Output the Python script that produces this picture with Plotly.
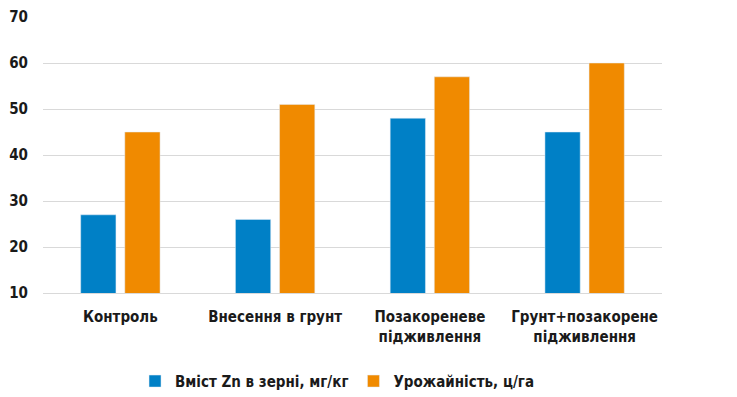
import plotly.graph_objects as go

categories = ["Контроль", "Внесення в грунт", "Позакореневе<br>підживлення", "Грунт+позакорене<br>підживлення"]
zn_content = [27, 26, 48, 45]
yield_vals = [45, 51, 57, 60]
series_names = ["Вміст Zn в зерні, мг/кг", "Урожайність, ц/га"]
y_ticks = [10, 20, 30, 40, 50, 60, 70]

FONT = "DejaVu Sans Condensed, Liberation Sans Narrow, sans-serif"
TXT = dict(family=FONT, size=15, color="#1a1a1a", weight="bold")

fig = go.Figure()
fig.add_trace(go.Bar(x=categories, y=zn_content, name=series_names[0], marker_color="#0080C6"))
fig.add_trace(go.Bar(x=categories, y=yield_vals, name=series_names[1], marker_color="#F08A00"))

fig.update_layout(
    width=737, height=397,
    margin=dict(l=35, r=83, t=9, b=112, autoexpand=False),
    paper_bgcolor="white", plot_bgcolor="white",
    barmode="group", bargap=0.43, bargroupgap=0.2,
    font=TXT,
    showlegend=True,
    legend=dict(orientation="h", x=0.475, xanchor="center", y=-0.32, yanchor="middle",
                font=TXT, traceorder="normal"),
    yaxis=dict(range=[10, 70], tickvals=y_ticks, showgrid=True, gridcolor="#D9D9D9", gridwidth=1,
               zeroline=False, showline=False, ticks="", ticklabelstandoff=14,
               automargin=False, tickfont=TXT),
    xaxis=dict(showline=True, linecolor="#D9D9D9", ticks="", ticklabelstandoff=10,
               automargin=False, tickfont=TXT),
)
fig.write_html("out.html")
